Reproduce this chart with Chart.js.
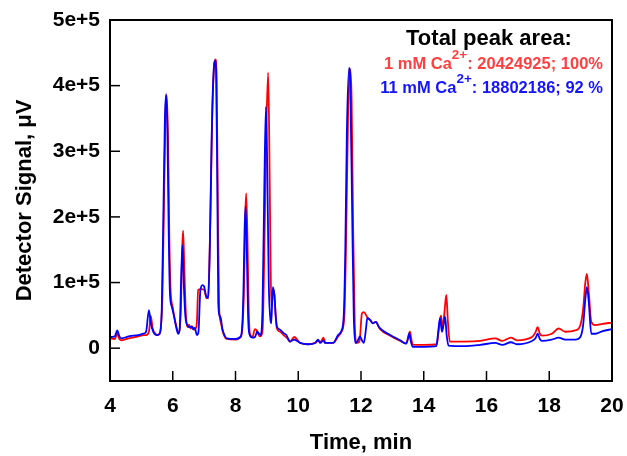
<!DOCTYPE html>
<html>
<head>
<meta charset="utf-8">
<script src="https://cdn.jsdelivr.net/npm/chart.js@4.4.0/dist/chart.umd.min.js"></script>
<style>
  body { margin: 0; background: #fff; }
  #wrap { width: 627px; height: 456px; }
</style>
</head>
<body>
<div id="wrap"><canvas id="chrom"></canvas></div>
<script>
// Chromatogram traces (time in min, signal in thousands of µV)
const redTime = [4.00, 4.15, 4.23, 4.30, 4.37, 4.6, 4.9, 5.06, 5.15, 5.24, 5.30, 5.36, 5.45, 5.52, 5.60, 5.67, 5.72, 5.77, 5.81, 5.85, 5.89, 5.93, 6.00, 6.05, 6.15, 6.20, 6.26, 6.30, 6.33, 6.37, 6.42, 6.47, 6.52, 6.57, 6.62, 6.68, 6.73, 6.77, 6.81, 6.90, 7.00, 7.08, 7.13, 7.20, 7.26, 7.32, 7.36, 7.40, 7.44, 7.48, 7.53, 7.58, 7.63, 7.72, 8.00, 8.15, 8.20, 8.27, 8.31, 8.34, 8.38, 8.42, 8.46, 8.54, 8.62, 8.68, 8.72, 8.78, 8.86, 8.92, 8.98, 9.04, 9.08, 9.12, 9.15, 9.19, 9.24, 9.28, 9.32, 9.42, 9.53, 9.65, 9.74, 9.87, 10.06, 10.31, 10.54, 10.63, 10.72, 10.80, 10.87, 11.11, 11.27, 11.38, 11.47, 11.53, 11.59, 11.66, 11.70, 11.75, 11.80, 11.86, 11.95, 12.03, 12.09, 12.20, 12.29, 12.38, 12.48, 12.55, 12.61, 12.93, 13.25, 13.44, 13.51, 13.56, 13.60, 13.65, 14.00, 14.42, 14.47, 14.55, 14.60, 14.66, 14.72, 14.77, 14.83, 15.27, 15.80, 16.28, 16.50, 16.78, 16.97, 17.45, 17.56, 17.63, 17.70, 17.77, 18.08, 18.30, 18.51, 18.83, 18.99, 19.08, 19.15, 19.20, 19.26, 19.34, 19.47, 19.70, 20.00];
const redSignal = [15, 14, 22, 14, 12, 15, 18, 20, 20, 25, 49, 30, 22, 20, 25, 80, 220, 360, 385, 320, 170, 90, 62, 48, 27, 24, 60, 150, 179, 120, 50, 32, 36, 30, 33, 28, 30, 40, 89, 90, 89, 76, 80, 200, 360, 430, 440, 410, 200, 60, 40, 28, 20, 14, 13, 16, 22, 90, 200, 236, 170, 60, 22, 17, 29, 27, 22, 18, 25, 150, 330, 420, 300, 120, 64, 90, 82, 50, 30, 25, 20, 15, 10, 17, 8, 6, 8, 11, 10, 16, 8, 8, 18, 25, 50, 180, 360, 425, 380, 180, 40, 8, 10, 53, 55, 47, 43, 38, 40, 34, 29, 19, 11, 7, 18, 25, 15, 5, 5, 6, 25, 50, 30, 55, 81, 40, 10, 10, 11, 15, 11, 16, 12, 17, 24, 32, 22, 19, 22, 30, 25, 27, 35, 60, 100, 113, 85, 40, 35, 37, 39];

const blueTime = [4.00, 4.15, 4.23, 4.30, 4.37, 4.6, 4.9, 5.06, 5.15, 5.24, 5.30, 5.38, 5.49, 5.58, 5.65, 5.70, 5.75, 5.79, 5.83, 5.87, 5.91, 5.97, 6.02, 6.12, 6.17, 6.22, 6.27, 6.31, 6.35, 6.40, 6.44, 6.50, 6.55, 6.60, 6.65, 6.70, 6.77, 6.82, 6.88, 6.95, 7.00, 7.06, 7.13, 7.18, 7.24, 7.30, 7.34, 7.38, 7.42, 7.45, 7.49, 7.53, 7.58, 7.63, 7.72, 8.00, 8.15, 8.20, 8.25, 8.29, 8.32, 8.36, 8.40, 8.44, 8.54, 8.62, 8.69, 8.75, 8.80, 8.86, 8.92, 8.97, 9.01, 9.06, 9.11, 9.14, 9.19, 9.24, 9.28, 9.32, 9.42, 9.53, 9.62, 9.74, 9.87, 10.06, 10.31, 10.54, 10.63, 10.70, 10.80, 10.85, 11.11, 11.27, 11.38, 11.45, 11.50, 11.55, 11.62, 11.66, 11.72, 11.77, 11.82, 11.88, 11.97, 12.03, 12.09, 12.16, 12.20, 12.29, 12.38, 12.48, 12.55, 12.61, 12.93, 13.25, 13.44, 13.50, 13.54, 13.58, 13.65, 14.00, 14.40, 14.45, 14.52, 14.58, 14.63, 14.68, 14.73, 14.79, 15.27, 15.80, 16.28, 16.50, 16.78, 16.97, 17.45, 17.56, 17.63, 17.70, 17.77, 18.08, 18.30, 18.51, 18.83, 18.99, 19.08, 19.15, 19.20, 19.26, 19.34, 19.47, 19.70, 20.00];
const blueSignal = [17, 18, 27, 18, 15, 18, 20, 22, 25, 58, 38, 25, 20, 22, 60, 200, 350, 387, 330, 180, 84, 63, 53, 30, 22, 28, 110, 157, 100, 50, 38, 33, 32, 33, 29, 31, 20, 25, 88, 96, 94, 80, 76, 150, 320, 420, 438, 425, 250, 70, 50, 46, 30, 22, 15, 14, 17, 25, 80, 180, 216, 150, 50, 22, 16, 17, 25, 22, 20, 60, 250, 368, 280, 100, 45, 38, 93, 80, 50, 33, 28, 23, 20, 10, 13, 8, 6, 8, 13, 8, 12, 8, 8, 20, 27, 50, 150, 330, 427, 400, 200, 48, 8, 10, 18, 12, 8, 30, 46, 43, 38, 40, 34, 30, 20, 12, 7, 15, 23, 12, 2, 2, 3, 20, 46, 25, 35, 48, 20, 4, 3, 5, 8, 5, 9, 6, 11, 15, 22, 14, 11, 13, 16, 13, 13, 17, 35, 75, 93, 70, 22, 22, 26, 29];

const xTicks = [4, 6, 8, 10, 12, 14, 16, 18, 20];
const yTicks = [0, 100000, 200000, 300000, 400000, 500000];

const toPoints = (times, vals) => times.map((t, i) => ({ x: t, y: vals[i] * 1000 }));

// frame, inward tick marks and the peak-area note
const decorations = {
    id: 'decorations',
    afterDraw(chart) {
        const { ctx, chartArea: { left, top, right, bottom }, scales: { x, y } } = chart;
        ctx.save();
        ctx.strokeStyle = '#000';
        ctx.lineWidth = 1.5;
        xTicks.forEach(v => {
            const px = x.getPixelForValue(v);
            ctx.beginPath(); ctx.moveTo(px, bottom); ctx.lineTo(px, bottom - 10); ctx.stroke();
        });
        yTicks.forEach(v => {
            const py = y.getPixelForValue(v);
            ctx.beginPath(); ctx.moveTo(left, py); ctx.lineTo(left + 10, py); ctx.stroke();
        });
        ctx.lineWidth = 2;
        ctx.strokeRect(left, top, right - left, bottom - top);

        const fam = '"Liberation Sans", Arial, sans-serif';
        ctx.textBaseline = 'alphabetic';
        ctx.fillStyle = '#000';
        ctx.font = 'bold 22px ' + fam;
        ctx.textAlign = 'center';
        ctx.fillText('Total peak area:', 489, 45);

        // a line with a superscript charge, right aligned
        const richLine = (parts, rightX, base, color) => {
            ctx.textAlign = 'left';
            ctx.fillStyle = color;
            let total = 0;
            parts.forEach(p => { ctx.font = 'bold ' + p.size + 'px ' + fam; p.w = ctx.measureText(p.text).width; total += p.w; });
            let cx = rightX - total;
            parts.forEach(p => {
                ctx.font = 'bold ' + p.size + 'px ' + fam;
                ctx.fillText(p.text, cx, base + (p.dy || 0));
                cx += p.w;
            });
        };
        richLine([{ text: '1 mM Ca', size: 16.5 }, { text: '2+', size: 13.5, dy: -10 }, { text: ': 20424925; 100%', size: 16.5 }], 603, 69, '#ff4040');
        richLine([{ text: '11 mM Ca', size: 16.5 }, { text: '2+', size: 13.5, dy: -10 }, { text: ': 18802186; 92 %', size: 16.5 }], 603, 93, '#1414ff');
        ctx.restore();
    }
};

Chart.defaults.font.family = '"Liberation Sans", Arial, sans-serif';
Chart.defaults.font.weight = 'bold';
Chart.defaults.color = '#000';

new Chart(document.getElementById('chrom'), {
    type: 'line',
    data: {
        datasets: [
            {
                label: '1 mM Ca2+',
                data: toPoints(redTime, redSignal),
                borderColor: '#ff0000',
                borderWidth: 1.8,
                pointRadius: 0,
                cubicInterpolationMode: 'monotone',
                order: 1
            },
            {
                label: '11 mM Ca2+',
                data: toPoints(blueTime, blueSignal),
                borderColor: '#0000ff',
                borderWidth: 1.8,
                pointRadius: 0,
                cubicInterpolationMode: 'monotone',
                order: 0
            }
        ]
    },
    options: {
        responsive: true,
        maintainAspectRatio: false,
        animation: false,
        layout: { padding: { top: 20, right: 15, left: 0, bottom: 0 } },
        plugins: { legend: { display: false }, tooltip: { enabled: false } },
        scales: {
            x: {
                type: 'linear',
                min: 4,
                max: 20,
                afterBuildTicks: s => { s.ticks = xTicks.map(v => ({ value: v })); },
                afterFit: s => { s.height = 75; s.paddingLeft = 0; s.paddingRight = 0; },
                grid: { display: false, drawTicks: false },
                border: { display: false },
                ticks: { font: { size: 21, weight: 'bold' }, color: '#000', padding: 13, maxRotation: 0, autoSkip: false },
                title: { display: true, text: 'Time, min', font: { size: 22, weight: 'bold' }, color: '#000', padding: { top: 0, bottom: 0 } }
            },
            y: {
                min: -50000,
                max: 500000,
                afterBuildTicks: s => { s.ticks = yTicks.map(v => ({ value: v })); },
                afterFit: s => { s.width = 110; s.paddingTop = 0; s.paddingBottom = 0; },
                grid: { display: false, drawTicks: false },
                border: { display: false },
                ticks: {
                    font: { size: 21, weight: 'bold' },
                    color: '#000',
                    padding: 10,
                    callback: v => v === 0 ? '0' : (v / 100000) + 'e+5'
                },
                title: { display: true, text: 'Detector Signal, μV', font: { size: 22, weight: 'bold' }, color: '#000', padding: { top: 12, bottom: 0 } }
            }
        }
    },
    plugins: [decorations]
});
</script>
</body>
</html>
